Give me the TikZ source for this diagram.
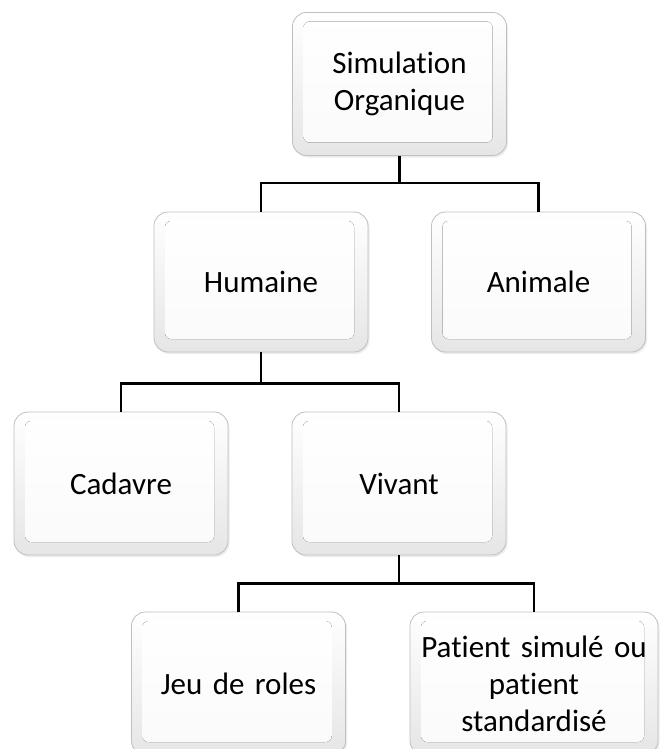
\documentclass[tikz,border=0pt]{standalone}
\usepackage{fontspec}
\setmainfont[Ligatures={NoCommon}]{Carlito}
\usetikzlibrary{shadows}
\begin{document}
\begin{tikzpicture}[x=1pt,y=-1pt,
  orgbox/.style={rounded corners=14pt, draw=gray!50, line width=0.8pt,
    top color=white, bottom color=gray!20,
    minimum width=214pt, minimum height=143pt, text width=200pt, align=center,
    inner sep=0pt,
    font=\fontsize{31}{37}\selectfont,
    drop shadow={opacity=0.15, shadow xshift=1.5pt, shadow yshift=-2pt},
    path picture={\fill[rounded corners=6pt, top color=white, bottom color=gray!4]
      ([shift={(11pt,-9pt)}]path picture bounding box.north west) rectangle
      ([shift={(-14pt,13pt)}]path picture bounding box.south east);}},
  link/.style={line width=2.4pt, black}]
\useasboundingbox (0,0) rectangle (659,749);
\fill[white] (0,0) rectangle (659,749);
\node[orgbox] (sim) at (399.5,84) {Simulation\\Organique};
\node[orgbox, minimum height=140pt] (hum) at (261,282) {Humaine};
\node[orgbox, minimum height=140pt] (ani) at (538.5,282) {Animale};
\node[orgbox] (cad) at (121,483.5) {Cadavre};
\node[orgbox] (viv) at (399,483.5) {Vivant};
\node[orgbox] (jeu) at (238.5,683.5) {\raisebox{-6pt}{Jeu de roles}};
\node[orgbox, minimum width=248pt, text width=246pt] (pat) at (534,683.5) {Patient simulé ou\\patient\\standardisé};
\draw[link] (sim.south) -- ++(0,27) -| (hum.north);
\draw[link] (sim.south) -- ++(0,27) -| (ani.north);
\draw[link] (hum.south) -- ++(0,31) -| (cad.north);
\draw[link] (hum.south) -- ++(0,31) -| (viv.north);
\draw[link] (viv.south) -- ++(0,28) -| (jeu.north);
\draw[link] (viv.south) -- ++(0,28) -| (pat.north);
\end{tikzpicture}
\end{document}
